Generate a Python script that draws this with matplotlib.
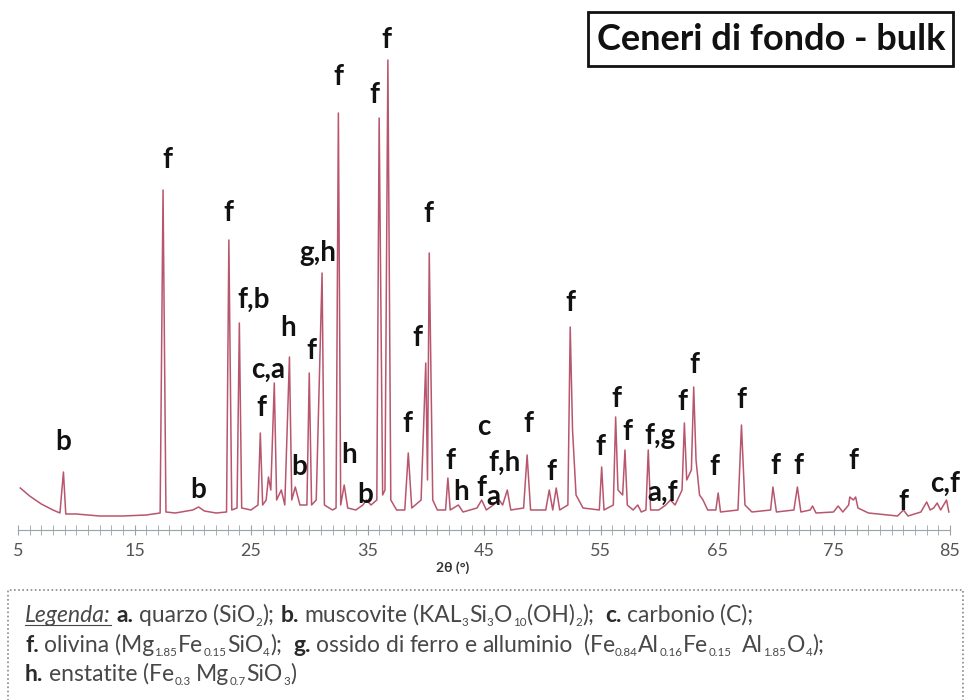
import re
import numpy as np
import matplotlib
matplotlib.use("Agg")
import matplotlib.pyplot as plt
from matplotlib.patches import Rectangle
from matplotlib.ticker import MultipleLocator, FixedLocator

plt.rcParams['font.family'] = ['Lato', 'DejaVu Sans']

# diffractogram (2theta in deg, intensity in arbitrary units)
two_theta = [5.2, 6.0, 7.0, 8.0, 8.6, 8.9, 9.1, 10.0, 12.0, 14.0, 16.0, 17.2, 17.45, 17.7,
             18.5, 20.0, 20.5, 21.0, 22.0, 22.9, 23.1, 23.35, 23.8, 24.0, 24.2, 25.0, 25.6,
             25.8, 26.0, 26.3, 26.5, 26.7, 27.0, 27.2, 27.6, 27.9, 28.3, 28.5, 28.8, 29.2,
             29.8, 30.0, 30.2, 30.6, 31.1, 31.3, 32.0, 32.3, 32.5, 32.7, 33.0, 33.3, 34.0,
             34.6, 34.9, 35.3, 35.8, 36.0, 36.3, 36.5, 36.75, 37.0, 37.5, 38.2, 38.5, 38.8,
             39.6, 40.0, 40.15, 40.3, 40.6, 41.0, 41.7, 41.9, 42.1, 42.8, 43.2, 44.4, 44.8,
             45.2, 45.8, 46.3, 46.6, 47.0, 47.3, 48.4, 48.7, 49.0, 50.3, 50.6, 50.9, 51.2,
             51.5, 52.2, 52.4, 52.6, 52.9, 53.5, 54.9, 55.1, 55.3, 56.1, 56.3, 56.5, 56.9,
             57.1, 57.3, 57.8, 58.2, 58.5, 58.9, 59.1, 59.3, 60.0, 60.6, 61.0, 61.4, 61.8,
             62.0, 62.2, 62.4, 62.8, 63.0, 63.2, 63.5, 63.8, 64.2, 64.9, 65.1, 65.3, 66.8,
             67.1, 67.4, 68.0, 69.6, 69.8, 70.1, 71.6, 71.9, 72.2, 73.0, 73.2, 73.5, 75.0,
             75.4, 75.8, 76.3, 76.4, 76.7, 76.9, 77.1, 78.0, 80.5, 81.0, 81.4, 82.5, 83.0,
             83.3, 83.6, 83.9, 84.2, 84.7, 84.9]
intensity = [42, 34, 26, 20, 17, 58, 16, 16, 14, 14, 15, 17, 340, 18,
             17, 20, 23, 19, 17, 18, 290, 20, 22, 207, 22, 20, 25,
             97, 25, 30, 53, 40, 147, 30, 40, 25, 173, 30, 43, 25,
             25, 157, 25, 30, 257, 25, 20, 22, 417, 25, 45, 22, 20,
             25, 30, 25, 30, 412, 35, 40, 470, 30, 20, 20, 77, 22,
             30, 167, 50, 277, 30, 20, 20, 52, 20, 25, 18, 22, 30,
             20, 25, 30, 25, 40, 20, 22, 75, 20, 20, 40, 20, 42,
             20, 25, 203, 100, 35, 22, 20, 63, 20, 25, 113, 40, 35,
             80, 25, 20, 25, 18, 20, 80, 20, 20, 25, 30, 25, 35,
             40, 107, 50, 60, 143, 70, 35, 30, 20, 20, 37, 18, 20,
             105, 25, 18, 20, 43, 18, 20, 43, 18, 20, 24, 17, 18,
             24, 18, 25, 33, 30, 33, 22, 17, 14, 20, 14, 18, 28,
             20, 22, 27, 20, 30, 18]

# phase labels: text, 2theta, height
label_text = ["b", "f", "b", "f", "f,b", "c,a", "f", "h", "b", "f", "g,h", "f", "h", "b", "f",
              "f", "f", "f", "f", "f", "h", "c", "f", "a", "f,h", "f", "f", "f", "f", "f", "f",
              "f,g", "a,f", "f", "f", "f", "f", "f", "f", "f", "f", "c,f"]
label_x = [8.9, 17.8, 20.5, 23.1, 25.2, 26.5, 25.9, 28.2, 29.1, 30.2, 30.7, 32.5, 33.4, 34.8, 35.6,
           36.6, 38.4, 39.3, 40.2, 42.1, 43.0, 45.0, 44.8, 45.8, 46.8, 48.8, 50.75, 52.4, 55.0, 56.4, 57.3,
           60.1, 60.3, 62.0, 63.1, 64.8, 67.1, 70.0, 72.0, 76.7, 81.0, 84.6]
label_y = [88, 370, 40, 317, 230, 160, 122, 202, 63, 179, 277, 453, 75, 35, 435,
           490, 106, 192, 316, 69, 38, 103, 42, 33, 67, 106, 58, 227, 83, 131, 98,
           94, 37, 128, 165, 63, 130, 64, 64, 69, 28, 46]

# legend text: **bold**, //italic underlined//, _{subscript}
legend_lines = [
    "//Legenda:// **a.** quarzo (SiO_{2}); **b.** muscovite (KAL_{3}Si_{3}O_{10}(OH)_{2});  **c.** carbonio (C);",
    "**f.** olivina (Mg_{1.85}Fe_{0.15}SiO_{4});  **g.** ossido di ferro e alluminio  (Fe_{0.84}Al_{0.16}Fe_{0.15}  Al_{1.85}O_{4});",
    "**h.** enstatite (Fe_{0.3} Mg_{0.7}SiO_{3})",
]
line_y = [622, 652, 681]

fig = plt.figure(figsize=(9.66, 7.0), dpi=100)
ax = fig.add_axes([18 / 966, 1 - 530 / 700, 932 / 966, 530 / 700])
ax.plot(two_theta, intensity, color='#b8566e', lw=1.1)
ax.set_xlim(5, 85)
ax.set_ylim(0, 530)

for t, x, y in zip(label_text, label_x, label_y):
    ax.text(x, y, t, ha='center', va='center', fontsize=20, fontweight='bold', color='#111111')

for s in ['top', 'right', 'left']:
    ax.spines[s].set_visible(False)
ax.spines['bottom'].set_color('#9aa3a8')
ax.set_yticks([])
ax.xaxis.set_major_locator(FixedLocator([5, 15, 25, 35, 45, 55, 65, 75, 85]))
ax.xaxis.set_minor_locator(MultipleLocator(1))
ax.tick_params(axis='x', which='both', direction='inout', length=7, color='#9aa3a8',
               labelsize=13, labelcolor='#555555', pad=6)
ax.patch.set_alpha(0)
fig.text(453 / 966, 1 - 568 / 700, '2θ (°)', ha='center', va='center', fontsize=10,
         fontweight='bold', color='#333333')

# title box
fig.text(771 / 966, 1 - 40 / 700, 'Ceneri di fondo - bulk', ha='center', va='center',
         fontsize=26, fontweight='bold', color='#111111')
fig.patches.append(Rectangle((588 / 966, 1 - 66 / 700), 365 / 966, 54 / 700, transform=fig.transFigure,
                             fill=False, lw=2, ec='#111111'))

# legend box
fig.patches.append(Rectangle((8 / 966, -0.02), 955 / 966, 110 / 700 + 0.02, transform=fig.transFigure,
                             fill=False, lw=1.2, ec='#888888', ls=(0, (1, 1.5))))

fs = 16.5
space = 5.2
renderer = fig.canvas.get_renderer()
for line, ly in zip(legend_lines, line_y):
    xpix = 25
    for tok in re.split(r'(\*\*.+?\*\*|//.+?//|_\{.+?\})', line):
        if not tok:
            continue
        kind = 'n'
        if tok.startswith('**'):
            kind, tok = 'b', tok[2:-2]
        elif tok.startswith('//'):
            kind, tok = 'u', tok[2:-2]
        elif tok.startswith('_{'):
            kind, tok = 's', tok[2:-1]
        words = tok.split(' ')
        for i, wd in enumerate(words):
            if i > 0:
                xpix += space
            if not wd:
                continue
            size = fs * 0.5 if kind == 's' else fs
            yoff = 4 if kind == 's' else 0
            t = fig.text(xpix / 966, 1 - (ly + yoff) / 700, wd, ha='left', va='baseline',
                         fontsize=size, fontweight='bold' if kind == 'b' else 'normal',
                         fontstyle='italic' if kind == 'u' else 'normal',
                         color='#2a2a2a' if kind == 'b' else '#484848')
            bb = t.get_window_extent(renderer)
            if kind == 'u':
                fig.add_artist(plt.Line2D([bb.x0 / 966, bb.x1 / 966], [1 - (ly + 3) / 700] * 2,
                                          transform=fig.transFigure, color='#484848', lw=0.8))
            xpix += bb.width + (0.5 if kind == 's' else 0.3)

fig.savefig('out.png', dpi=100)
